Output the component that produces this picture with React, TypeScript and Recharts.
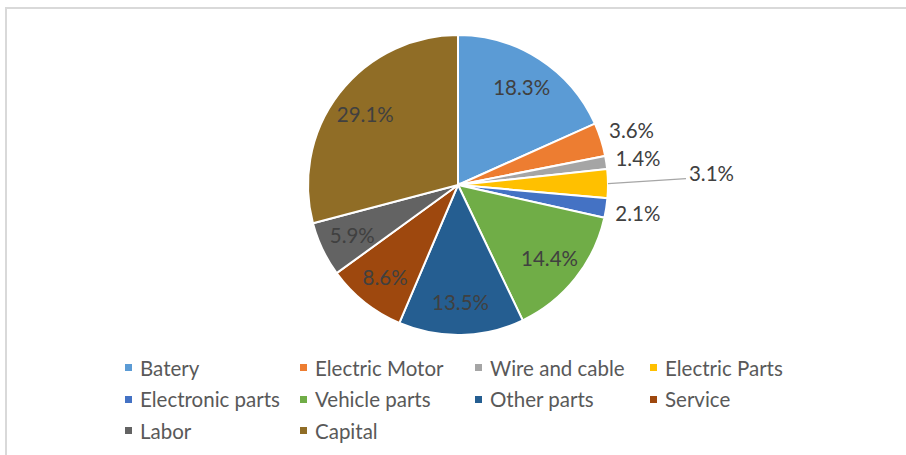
import { PieChart, Pie, Cell, Legend } from "recharts";

const categories = [
  "Batery",
  "Electric Motor",
  "Wire and cable",
  "Electric Parts",
  "Electronic parts",
  "Vehicle parts",
  "Other parts",
  "Service",
  "Labor",
  "Capital",
];
const shares = [18.3, 3.6, 1.4, 3.1, 2.1, 14.4, 13.5, 8.6, 5.9, 29.1];
const colors = [
  "#5B9BD5",
  "#ED7D31",
  "#A5A5A5",
  "#FFC000",
  "#4472C4",
  "#70AD47",
  "#255E91",
  "#9E480E",
  "#636363",
  "#906D26",
];

// slices too thin for an inside label; one of them gets a leader line
const outsideLabels = ["Electric Motor", "Wire and cable", "Electronic parts"];
const calloutLabels = ["Electric Parts"];

const data = categories.map((name, i) => ({ name, value: shares[i] }));

const FONT = "Lato, 'Open Sans', sans-serif";
const RAD = Math.PI / 180;

const renderLabel = (props: any) => {
  const { cx, cy, midAngle, outerRadius, name, value } = props;
  const cos = Math.cos(-midAngle * RAD);
  const sin = Math.sin(-midAngle * RAD);
  const text = `${value.toFixed(1)}%`;
  const style = { fontFamily: FONT, fontSize: 20.5, fill: "#404040" };

  if (calloutLabels.includes(name)) {
    const sx = cx + outerRadius * cos;
    const sy = cy + outerRadius * sin;
    const ex = sx + 78;
    const ey = sy - 5;
    return (
      <g>
        <line x1={sx} y1={sy} x2={ex} y2={ey} stroke="#A6A6A6" strokeWidth={1.3} />
        <text x={ex + 3} y={ey - 6} textAnchor="start" dominantBaseline="central" {...style}>
          {text}
        </text>
      </g>
    );
  }

  const r = outsideLabels.includes(name) ? outerRadius + 30 : outerRadius * 0.78;
  return (
    <text
      x={cx + r * cos + (outsideLabels.includes(name) ? 2 : 0)}
      y={cy + r * sin}
      textAnchor="middle"
      dominantBaseline="central"
      {...style}
    >
      {text}
    </text>
  );
};

const LegendGrid = () => (
  <div
    style={{
      display: "grid",
      gridTemplateColumns: "repeat(4, 175px)",
      paddingLeft: 125,
      fontFamily: FONT,
      fontSize: 20.5,
      color: "#595959",
    }}
  >
    {categories.map((name, i) => (
      <div key={name} style={{ display: "flex", alignItems: "center", height: 31.5 }}>
        <span
          style={{
            display: "inline-block",
            width: 7,
            height: 7,
            background: colors[i],
            marginRight: 8,
          }}
        />
        <span style={{ whiteSpace: "nowrap" }}>{name}</span>
      </div>
    ))}
  </div>
);

export default function App() {
  return (
    <div style={{ position: "absolute", left: 0, top: 0, width: 906, height: 455, overflow: "hidden", background: "#fff" }}>
      <div
        style={{
          position: "absolute",
          left: 5,
          top: 7,
          width: 920,
          height: 480,
          border: "2px solid #D9D9D9",
          boxSizing: "border-box",
        }}
      />
      <PieChart
        width={906}
        height={455}
        margin={{ top: 0, right: 0, bottom: 0, left: 0 }}
        style={{ position: "absolute", left: 0, top: 0 }}
      >
        <Pie
          data={data}
          dataKey="value"
          nameKey="name"
          cx={458}
          cy={185}
          outerRadius={150}
          startAngle={90}
          endAngle={-270}
          stroke="#FFFFFF"
          strokeWidth={2}
          label={renderLabel}
          labelLine={false}
          isAnimationActive={false}
        >
          {data.map((d, i) => (
            <Cell key={d.name} fill={colors[i]} />
          ))}
        </Pie>
        <Legend
          content={() => <LegendGrid />}
          wrapperStyle={{ position: "absolute", left: 0, top: 352, width: 906 }}
        />
      </PieChart>
    </div>
  );
}
